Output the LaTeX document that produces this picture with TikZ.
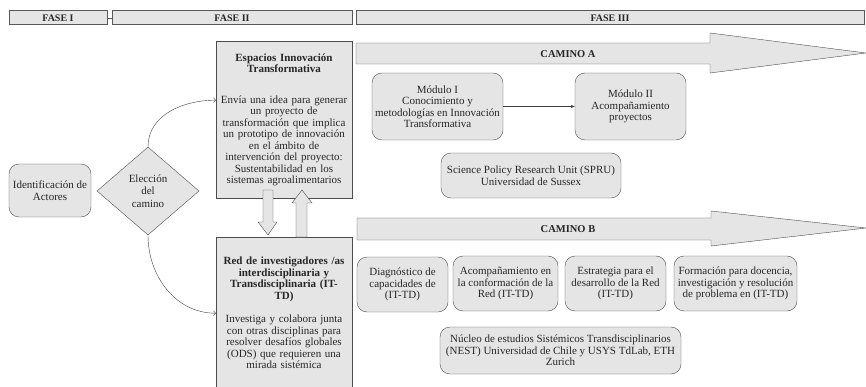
\documentclass[tikz,border=0pt]{standalone}
\usepackage{fontspec}
\setmainfont{Liberation Serif}
\usetikzlibrary{shapes.geometric,arrows.meta}

\begin{document}
\begin{tikzpicture}[x=1pt,y=-1pt,
  fase/.style={draw=black!65, line width=1pt, fill=black!10, minimum height=14pt, inner sep=0pt, text=black!85, font=\bfseries\fontsize{10}{11}\selectfont},
  caja/.style={draw=black!70, fill=black!10, rounded corners=10pt, align=center, inner sep=1pt, text=black!85, font=\fontsize{11}{11.5}\selectfont},
  bloque/.style={draw=black!70, fill=black!10, anchor=north, align=center, text width=130pt, inner sep=3pt, text=black!85, font=\fontsize{11}{11.5}\selectfont},
  flecha/.style={draw=black!70, fill=black!10},
  camino/.style={text=black!85, font=\bfseries\fontsize{10.5}{12}\selectfont}]
\useasboundingbox (0,0) rectangle (866,387);

% fases
\node[fase, minimum width=98pt] (fase1) at (58,18) {FASE I};
\node[fase, minimum width=240pt] (fase2) at (232,18) {FASE II};
\node[fase, minimum width=508pt] (fase3) at (610,18) {FASE III};
\draw[black!65] (fase1) -- (fase2);

% caminos
\draw[flecha] (356,43) -- (710,43) -- (710,33) -- (866,53) -- (710,73) -- (710,64) -- (356,64) -- cycle;
\node[camino] (caminoA) at (568,54) {CAMINO A};
\draw[flecha] (357,218) -- (711,218) -- (711,211) -- (866,228) -- (711,246) -- (711,240) -- (357,240) -- cycle;
\node[camino] (caminoB) at (568,229) {CAMINO B};

% fase I y eleccion
\node[caja, minimum width=82pt, minimum height=53pt] (ident) at (50,190.5) {Identificación de\\Actores};
\node[draw=black!70, fill=black!10, diamond, minimum width=102pt, minimum height=88pt, inner sep=0pt, align=center, text=black!85, font=\fontsize{11}{12.5}\selectfont] (elec) at (148,191) {Elección\\del\\camino};

% fase II
\node[bloque, minimum height=157pt] (esp) at (284,41) {\textbf{Espacios Innovación}\\\textbf{Transformativa}\\[19pt]
Envía una idea para generar\\un proyecto de\\transformación que implica\\un prototipo de innovación\\en el ámbito de\\intervención del proyecto:\\Sustentabilidad en los\\sistemas agroalimentarios};
\node[bloque, minimum height=152pt] (red) at (284,237) {\textbf{Red de investigadores /as}\\\textbf{interdisciplinaria y}\\\textbf{Transdisciplinaria (IT-}\\\textbf{TD)}\\[12pt]
Investiga y colabora junta\\con otras disciplinas para\\resolver desafíos globales\\(ODS) que requieren una\\mirada sistémica};
\draw[flecha] (263,190) -- (273,190) -- (273,222) -- (277,222) -- (268,235) -- (258,222) -- (263,222) -- cycle;
\draw[flecha] (296,237) -- (296,203) -- (292,203) -- (302,190) -- (312,203) -- (307,203) -- (307,237) -- cycle;

\draw[->, black!75] (elec.north) to[out=90, in=180] ([yshift=19.5pt]esp.west);
\draw[->, black!75] (elec.south) to[out=-90, in=180] (red.west);

% camino A
\node[caja, minimum width=131pt, minimum height=67pt] (mod1) at (437.5,106.5) {Módulo I\\Conocimiento y\\metodologías en Innovación\\Transformativa};
\node[caja, minimum width=111pt, minimum height=67pt] (mod2) at (630.5,106.5) {Módulo II\\Acompañamiento\\proyectos};
\node[caja, minimum width=180pt, minimum height=45pt] (spru) at (531,175.5) {Science Policy Research Unit (SPRU)\\Universidad de Sussex};
\draw[-{Stealth[length=4pt]}, black!75] (mod1) -- (mod2);

% camino B
\node[caja, minimum width=91pt, minimum height=55pt] (diag) at (402.5,284.5) {Diagnóstico de\\capacidades de\\(IT-TD)};
\node[caja, minimum width=105pt, minimum height=55pt] (acomp) at (505.5,283.5) {Acompañamiento en\\la conformación de la\\Red (IT-TD)};
\node[caja, minimum width=101pt, minimum height=55pt] (estr) at (615.5,283.5) {Estrategia para el\\desarrollo de la Red\\(IT-TD)};
\node[caja, minimum width=123pt, minimum height=55pt] (form) at (735.5,283.5) {Formación para docencia,\\investigación y resolución\\de problema en (IT-TD)};
\node[caja, minimum width=241pt, minimum height=47pt] (nest) at (560.5,350.5) {Núcleo de estudios Sistémicos Transdisciplinarios\\(NEST) Universidad de Chile y USYS TdLab, ETH\\Zurich};
\end{tikzpicture}
\end{document}
